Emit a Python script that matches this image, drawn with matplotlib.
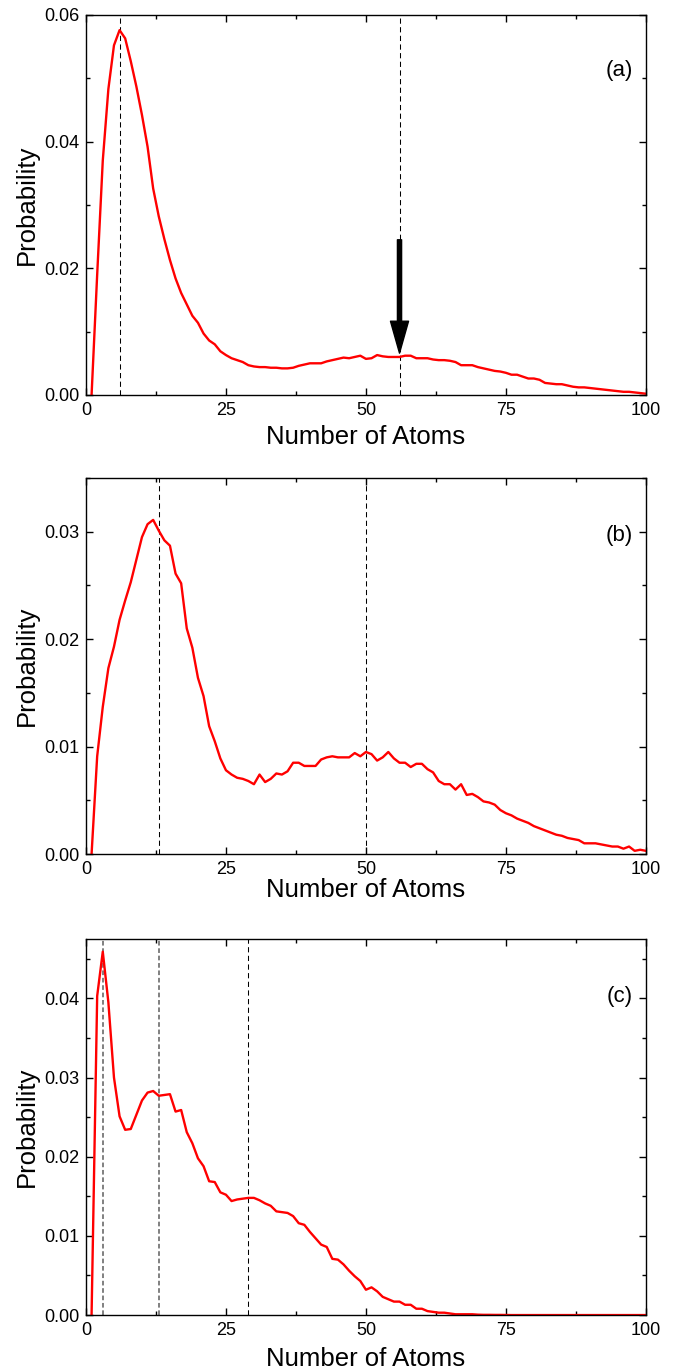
import numpy as np
import matplotlib
matplotlib.use('Agg')
import matplotlib.pyplot as plt
from matplotlib.ticker import MultipleLocator, FormatStrFormatter

plt.rcParams['font.family'] = ['Liberation Sans', 'DejaVu Sans']

atoms = np.arange(1, 101)

prob_a = [0.0, 0.019, 0.037, 0.0483, 0.0552, 0.0576, 0.0563, 0.0527, 0.0487, 0.0442,
          0.0392, 0.0326, 0.0282, 0.0246, 0.0213, 0.0184, 0.0161, 0.0143, 0.0125, 0.0114,
          0.0097, 0.0086, 0.0080, 0.0069, 0.0063, 0.0058, 0.0055, 0.0052, 0.0047, 0.0045,
          0.0044, 0.0044, 0.0043, 0.0043, 0.0042, 0.0042, 0.0043, 0.0046, 0.0048, 0.0050,
          0.0050, 0.0050, 0.0053, 0.0055, 0.0057, 0.0059, 0.0058, 0.0060, 0.0062, 0.0057,
          0.0058, 0.0063, 0.0061, 0.0060, 0.0060, 0.0060, 0.0062, 0.0062, 0.0058, 0.0058,
          0.0058, 0.0056, 0.0055, 0.0055, 0.0054, 0.0052, 0.0047, 0.0047, 0.0047, 0.0044,
          0.0042, 0.0040, 0.0038, 0.0037, 0.0035, 0.0032, 0.0032, 0.0029, 0.0026, 0.0026,
          0.0024, 0.0019, 0.0018, 0.0017, 0.0017, 0.0015, 0.0013, 0.0012, 0.0012, 0.0011,
          0.0010, 0.0009, 0.0008, 0.0007, 0.0006, 0.0005, 0.0005, 0.0004, 0.0003, 0.0002]

prob_b = [0.0, 0.0091, 0.0137, 0.0173, 0.0193, 0.0218, 0.0236, 0.0253, 0.0274, 0.0295,
          0.0307, 0.0311, 0.0301, 0.0292, 0.0287, 0.0261, 0.0252, 0.0210, 0.0192, 0.0164,
          0.0147, 0.0119, 0.0105, 0.0089, 0.0078, 0.0074, 0.0071, 0.0070, 0.0068, 0.0065,
          0.0074, 0.0067, 0.0070, 0.0075, 0.0074, 0.0077, 0.0085, 0.0085, 0.0082, 0.0082,
          0.0082, 0.0088, 0.0090, 0.0091, 0.0090, 0.0090, 0.0090, 0.0094, 0.0091, 0.0095,
          0.0093, 0.0087, 0.0090, 0.0095, 0.0089, 0.0085, 0.0085, 0.0081, 0.0084, 0.0084,
          0.0079, 0.0076, 0.0068, 0.0065, 0.0065, 0.0060, 0.0065, 0.0055, 0.0056, 0.0053,
          0.0049, 0.0048, 0.0046, 0.0041, 0.0038, 0.0036, 0.0033, 0.0031, 0.0029, 0.0026,
          0.0024, 0.0022, 0.0020, 0.0018, 0.0017, 0.0015, 0.0014, 0.0013, 0.0010, 0.0010,
          0.0010, 0.0009, 0.0008, 0.0007, 0.0007, 0.0005, 0.0007, 0.0003, 0.0004, 0.0003]

prob_c = [0.0, 0.0403, 0.0459, 0.0395, 0.0300, 0.0251, 0.0234, 0.0235, 0.0253, 0.0271,
          0.0281, 0.0283, 0.0277, 0.0278, 0.0279, 0.0257, 0.0259, 0.0231, 0.0217, 0.0198,
          0.0188, 0.0169, 0.0168, 0.0155, 0.0152, 0.0144, 0.0146, 0.0147, 0.0148, 0.0148,
          0.0145, 0.0141, 0.0138, 0.0131, 0.0130, 0.0129, 0.0125, 0.0116, 0.0114, 0.0105,
          0.0097, 0.0089, 0.0086, 0.0071, 0.0070, 0.0064, 0.0056, 0.0049, 0.0043, 0.0032,
          0.0035, 0.0030, 0.0023, 0.0020, 0.0017, 0.0017, 0.0013, 0.0013, 0.0008, 0.0008,
          0.0005, 0.0004, 0.0003, 0.0003, 0.0002, 0.0001, 0.0001, 0.0001, 0.0001, 0.00005,
          0.00003, 0.00003, 0.00002, 0.00002, 0.00001, 0.0, 0.0, 0.0, 0.0, 0.0,
          0.0, 0.0, 0.0, 0.0, 0.0, 0.0, 0.0, 0.0, 0.0, 0.0,
          0.0, 0.0, 0.0, 0.0, 0.0, 0.0, 0.0, 0.0, 0.0, 0.0]

# dashed marker lines: (position, colour, width)
marks_a = [(6, 'black', 0.75), (56, 'black', 0.75)]
marks_b = [(13, 'black', 0.75), (50, 'black', 0.75)]
marks_c = [(3, 'gray', 1.4), (13, 'gray', 1.4), (29, 'black', 0.75)]

xticks = [0, 25, 50, 75, 100]

fig = plt.figure(figsize=(6.77, 13.7), dpi=100)
ax1 = fig.add_axes([0.127, 0.7117, 0.827, 0.2774])
ax2 = fig.add_axes([0.127, 0.3766, 0.827, 0.2745])
ax3 = fig.add_axes([0.127, 0.0401, 0.827, 0.2745])

panels = [
    (ax1, prob_a, marks_a, 0.06, 0.02, 0.01, '(a)', 0.855, -0.078),
    (ax2, prob_b, marks_b, 0.035, 0.01, 0.005, '(b)', 0.848, -0.064),
    (ax3, prob_c, marks_c, 0.0475, 0.01, 0.005, '(c)', 0.846, -0.086),
]

for ax, prob, marks, ytop, ymaj, ymin, tag, tag_y, xlab_y in panels:
    for pos, col, w in marks:
        if col == 'gray':
            ax.axvline(pos, color='#808080', lw=w, dashes=(2.4, 1.4))
        else:
            ax.axvline(pos, color='black', lw=w, dashes=(5, 3.3))
    ax.plot(atoms, prob, color='red', lw=1.7)

    ax.set_xlim(0, 100)
    ax.set_ylim(0, ytop)
    ax.set_xticks(xticks)
    ax.xaxis.set_minor_locator(MultipleLocator(12.5))
    ax.yaxis.set_major_locator(MultipleLocator(ymaj))
    ax.yaxis.set_minor_locator(MultipleLocator(ymin))
    ax.yaxis.set_major_formatter(FormatStrFormatter('%.2f'))
    ax.tick_params(which='both', direction='in', top=True, right=True, labelsize=13, width=1)
    ax.tick_params(which='major', length=5, pad=5)
    ax.tick_params(which='minor', length=3)
    for sp in ax.spines.values():
        sp.set_linewidth(1)

    ax.set_xlabel('Number of Atoms', fontsize=18.5)
    ax.set_ylabel('Probability', fontsize=18.5)
    ax.xaxis.set_label_coords(0.5, xlab_y)
    ax.yaxis.set_label_coords(-0.085, 0.5)
    ax.text(0.977, tag_y, tag, transform=ax.transAxes, ha='right', va='center', fontsize=16)

# arrow pointing at the second peak in (a)
ax1.annotate('', xy=(56, 0.0066), xytext=(56, 0.0245),
             arrowprops=dict(facecolor='black', edgecolor='black', width=3,
                             headwidth=13, headlength=23, shrink=0))

fig.savefig('out.png', dpi=100)
